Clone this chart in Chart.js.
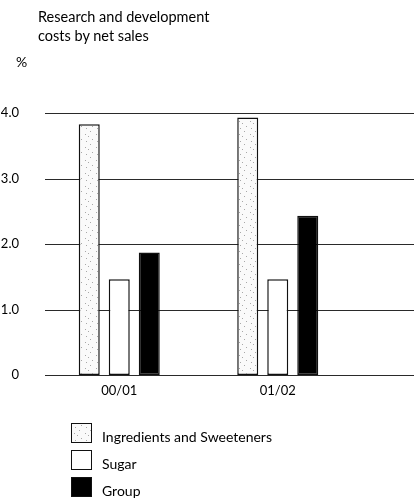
<!DOCTYPE html>
<html>
<head>
<meta charset="utf-8">
<script src="https://cdn.jsdelivr.net/npm/chart.js@4/dist/chart.umd.min.js"></script>
<style>
  html, body { margin: 0; padding: 0; background: #fff; }
  #wrap { position: relative; width: 414px; height: 502px; }
  .title { position: absolute; left: 38px; top: 7px; font: 14.5px Lato, "Open Sans", sans-serif; color: #000; line-height: 19px; }
  .unit { position: absolute; left: 16px; top: 53px; font: 14px Lato, "Open Sans", sans-serif; color: #000; }
</style>
</head>
<body>
<div id="wrap">
  <canvas id="c" width="414" height="502"></canvas>
  <div class="title">Research and development<br>costs by net sales</div>
  <div class="unit">%</div>
</div>
<script>
// Research and development costs as a share of net sales (%)
const periods = ['00/01', '01/02'];
const ingredientsSweeteners = [3.83, 3.93];
const sugar = [1.46, 1.46];
const group = [1.87, 2.43];
const yTicks = [0, 1, 2, 3, 4];

const FONT = 'Lato, "Open Sans", sans-serif';

// Faint stippled fill for the first series
function stipple() {
  const p = document.createElement('canvas');
  p.width = 11; p.height = 13;
  const g = p.getContext('2d');
  g.fillStyle = '#fafafa';
  g.fillRect(0, 0, 11, 13);
  g.fillStyle = '#a8a8a8';
  [[2, 1], [8, 4], [4, 9], [9, 11], [0, 6]].forEach(([x, y]) => g.fillRect(x, y, 1, 1));
  return g.createPattern(p, 'repeat');
}

// Full-width horizontal rules at each y tick, from the rule start to the page edge
const rules = {
  id: 'rules',
  beforeDatasetsDraw(chart) {
    const { ctx, scales: { y } } = chart;
    ctx.save();
    ctx.strokeStyle = '#2a2a2a';
    ctx.lineWidth = 1.2;
    y.ticks.forEach(t => {
      const py = Math.round(y.getPixelForValue(t.value)) + 0.5;
      ctx.beginPath();
      ctx.moveTo(45, py);
      ctx.lineTo(chart.width, py);
      ctx.stroke();
    });
    ctx.restore();
  }
};

// Vertical legend under the plot
const boxLegend = {
  id: 'boxLegend',
  afterDraw(chart) {
    const { ctx } = chart;
    ctx.save();
    ctx.font = '14px ' + FONT;
    ctx.textBaseline = 'middle';
    chart.data.datasets.forEach((ds, i) => {
      const x = 71, y = 423 + i * 27, w = 21, h = 20;
      ctx.fillStyle = ds.backgroundColor;
      ctx.fillRect(x, y, w, h);
      ctx.strokeStyle = '#111';
      ctx.lineWidth = 1;
      ctx.strokeRect(x + 0.5, y + 0.5, w - 1, h - 1);
      ctx.fillStyle = '#000';
      ctx.fillText(ds.label, 102, y + h / 2 + 4);
    });
    ctx.restore();
  }
};

const ctx = document.getElementById('c').getContext('2d');
new Chart(ctx, {
  type: 'bar',
  data: {
    labels: periods,
    datasets: [
      { label: 'Ingredients and Sweeteners', data: ingredientsSweeteners, backgroundColor: stipple() },
      { label: 'Sugar', data: sugar, backgroundColor: '#ffffff' },
      { label: 'Group', data: group, backgroundColor: '#000000' }
    ].map(d => Object.assign(d, {
      borderColor: '#111',
      borderWidth: 1.5,
      borderSkipped: false,
      barPercentage: 0.7,
      categoryPercentage: 0.568
    }))
  },
  options: {
    responsive: false,
    animation: false,
    events: [],
    layout: { padding: { top: 113, right: 57, bottom: 97, left: 0 } },
    plugins: { legend: { display: false }, tooltip: { enabled: false } },
    scales: {
      x: {
        offset: true,
        grid: { display: false },
        border: { display: false },
        afterFit: s => { s.height = 30; },
        ticks: { color: '#000', font: { family: FONT, size: 13 }, padding: 0 }
      },
      y: {
        min: 0,
        max: 4,
        afterFit: s => { s.width = 40; },
        afterBuildTicks: s => { s.ticks = yTicks.map(v => ({ value: v })); },
        grid: { display: false },
        border: { display: false },
        ticks: {
          color: '#000',
          font: { family: FONT, size: 13 },
          padding: 13,
          callback: v => (v === 0 ? '0' : v.toFixed(1))
        }
      }
    }
  },
  plugins: [rules, boxLegend]
});
</script>
</body>
</html>
